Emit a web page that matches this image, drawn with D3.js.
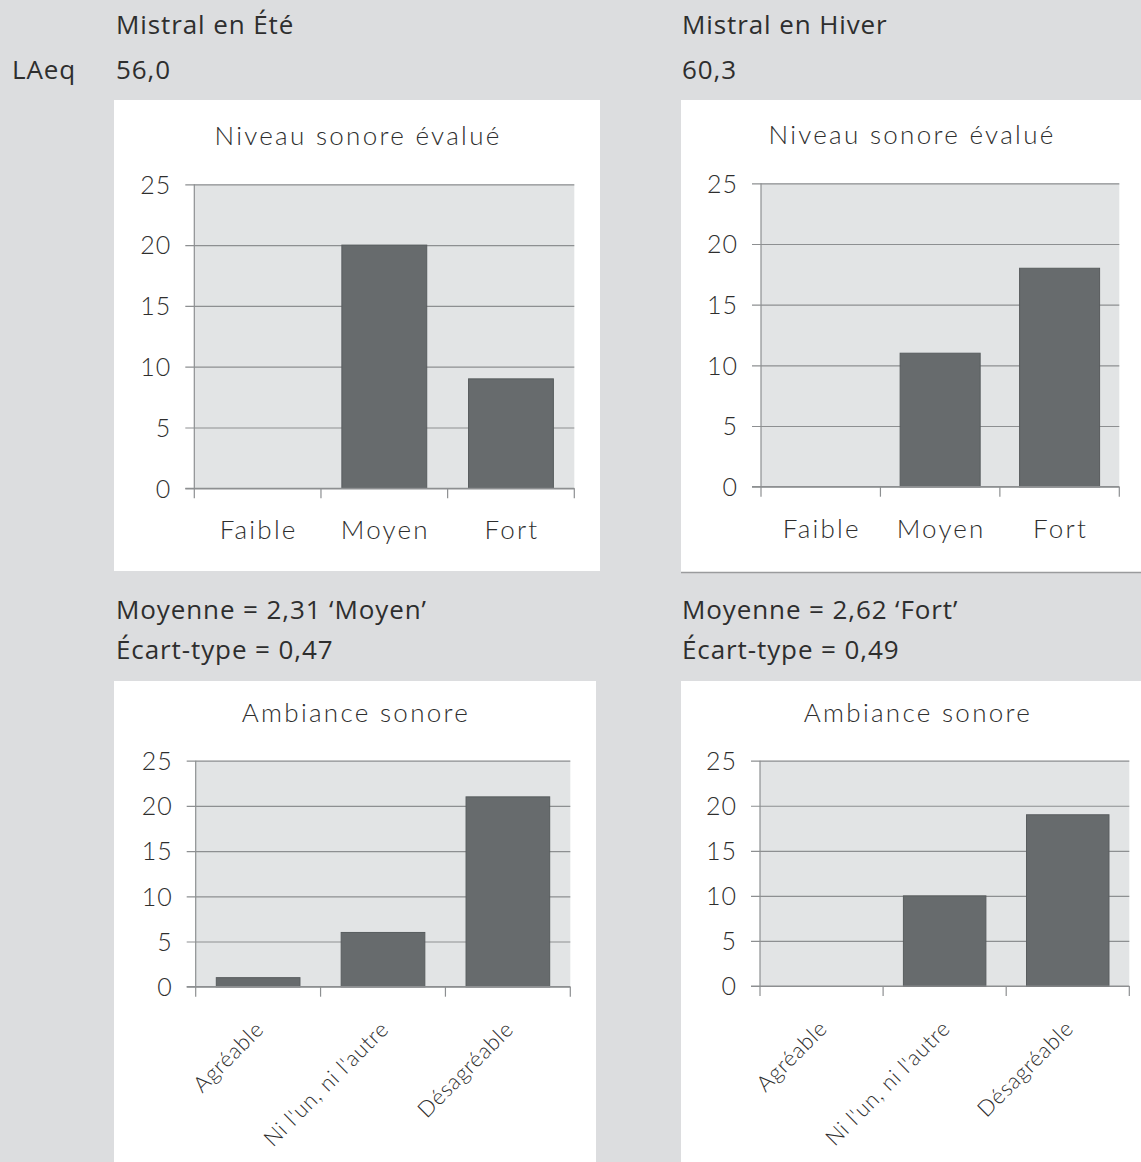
<!DOCTYPE html>
<html><head><meta charset="utf-8">
<script src="https://cdn.jsdelivr.net/npm/d3@7/dist/d3.min.js"></script>
<style>
html,body{margin:0;padding:0;background:#dcdddf;}
svg{display:block;}
</style></head>
<body>
<svg id="c" width="1141" height="1162"></svg>
<script>
// ---- data ----
const seasons = ["Mistral en Été", "Mistral en Hiver"];
const laeqLabel = "LAeq";
const laeqValues = ["56,0", "60,3"];
const moyennes = ["Moyenne = 2,31 \u2018Moyen\u2019", "Moyenne = 2,62 \u2018Fort\u2019"];
const ecarts = ["Écart-type = 0,47", "Écart-type = 0,49"];
const titleNiveau = "Niveau sonore évalué";
const titleAmbiance = "Ambiance sonore";
const categoriesNiveau = ["Faible", "Moyen", "Fort"];
const niveauEte = [0, 20, 9];
const niveauHiver = [0, 11, 18];
const categoriesAmbiance = ["Agréable", "Ni l'un, ni l'autre", "Désagréable"];
const ambianceEte = [1, 6, 21];
const ambianceHiver = [0, 10, 19];
const yTicks = [0, 5, 10, 15, 20, 25];

// ---- layout ----
const svg = d3.select("#c");
const headFont = "'Open Sans', sans-serif";
const chartFont = "Lato, sans-serif";
const txtCol = "#2e2e2e";

svg.append("rect").attr("width",1141).attr("height",1162).attr("fill","#dcdddf");

function head(x, y, t){
  svg.append("text").attr("x",x).attr("y",y).text(t)
    .attr("font-family",headFont).attr("font-size",26).attr("letter-spacing",0.9).attr("fill",txtCol);
}
head(116, 34, seasons[0]);
head(682, 34, seasons[1]);
head(12, 79, laeqLabel);
head(116, 79, laeqValues[0]);
head(682, 79, laeqValues[1]);
head(116, 619, moyennes[0]);
head(682, 619, moyennes[1]);
head(116, 659, ecarts[0]);
head(682, 659, ecarts[1]);

const panels = [
  {px:114, py:100, pw:486, ph:471, x0:194.3, x1:574.3, yT:184.3, yB:488.3, title:titleNiveau, tY:136, tX:357, cats:categoriesNiveau, vals:niveauEte, rot:false, border:false},
  {px:681, py:100, pw:460, ph:472, x0:761, x1:1119.3, yT:183.3, yB:486.7, title:titleNiveau, tY:135, tX:911, cats:categoriesNiveau, vals:niveauHiver, rot:false, border:true},
  {px:114, py:681, pw:482, ph:481, x0:195.7, x1:570.3, yT:760.7, yB:986.7, title:titleAmbiance, tY:713, tX:355, cats:categoriesAmbiance, vals:ambianceEte, rot:true, border:false},
  {px:681, py:681, pw:460, ph:481, x0:760, x1:1129.3, yT:760.7, yB:986, title:titleAmbiance, tY:713, tX:917, cats:categoriesAmbiance, vals:ambianceHiver, rot:true, border:false}
];

panels.forEach(p => {
  const g = svg.append("g");
  g.append("rect").attr("x",p.px).attr("y",p.py).attr("width",p.pw).attr("height",p.ph).attr("fill","#ffffff");
  if (p.border) {
    g.append("line").attr("x1",p.px).attr("x2",p.px+p.pw).attr("y1",p.py+p.ph+0.5).attr("y2",p.py+p.ph+0.5)
      .attr("stroke","#9a9b9d").attr("stroke-width",1.5);
  }
  const x = d3.scaleBand().domain(p.cats).range([p.x0, p.x1]).paddingInner(0).paddingOuter(0);
  const y = d3.scaleLinear().domain([0, 25]).range([p.yB, p.yT]);

  g.append("rect").attr("x",p.x0).attr("y",p.yT).attr("width",p.x1-p.x0).attr("height",p.yB-p.yT).attr("fill","#e2e4e5");

  // gridlines + y axis
  const yAxis = d3.axisLeft(y).tickValues(yTicks).tickSize(-(p.x1-p.x0)).tickPadding(0).tickFormat(d3.format("d"));
  const ya = g.append("g").attr("transform",`translate(${p.x0},0)`).call(yAxis);
  ya.select(".domain").remove();
  ya.selectAll(".tick line").attr("stroke","#8d8f91").attr("stroke-width",1.2).attr("x1",-9);
  ya.selectAll(".tick text").attr("x",-23).attr("dy","0.35em")
    .attr("font-family",chartFont).attr("font-weight",300).attr("font-size",25).attr("letter-spacing",1).attr("fill",txtCol);
  // vertical axis line
  g.append("line").attr("x1",p.x0).attr("x2",p.x0).attr("y1",p.yT).attr("y2",p.yB).attr("stroke","#8d8f91").attr("stroke-width",1.2);

  // bars
  const bw = x.bandwidth()*0.67;
  g.selectAll("rect.bar").data(p.vals.map((v,i)=>({c:p.cats[i], v})).filter(d=>d.v>0)).enter()
    .append("rect").attr("class","bar")
    .attr("x",d=>x(d.c)+(x.bandwidth()-bw)/2).attr("width",bw)
    .attr("y",d=>y(d.v)).attr("height",d=>y(0)-y(d.v))
    .attr("fill","#676b6d").attr("stroke","#585c5e").attr("stroke-width",1);

  // x axis ticks at band boundaries
  const bounds = p.cats.map(c=>x(c)).concat([p.x1]);
  g.selectAll("line.xt").data(bounds).enter().append("line")
    .attr("x1",d=>d).attr("x2",d=>d).attr("y1",p.yB).attr("y2",p.yB+10)
    .attr("stroke","#8d8f91").attr("stroke-width",1.2);
  g.append("line").attr("x1",p.x0-9).attr("x2",p.x1).attr("y1",p.yB).attr("y2",p.yB).attr("stroke","#8d8f91").attr("stroke-width",1.2);

  // category labels
  if (!p.rot) {
    g.selectAll("text.cat").data(p.cats).enter().append("text")
      .attr("x",d=>x(d)+x.bandwidth()/2+1).attr("y",p.yB+51)
      .attr("text-anchor","middle").text(d=>d)
      .attr("font-family",chartFont).attr("font-weight",300).attr("font-size",26).attr("letter-spacing",2.2).attr("fill",txtCol);
  } else {
    g.selectAll("text.cat").data(p.cats).enter().append("text")
      .attr("transform",d=>`translate(${x(d)+x.bandwidth()/2+7},${p.yB+44}) rotate(-45)`)
      .attr("text-anchor","end").text(d=>d)
      .attr("font-family",chartFont).attr("font-weight",300).attr("font-size",22).attr("letter-spacing",0.7).attr("fill",txtCol);
  }

  // title
  g.append("text").attr("x",p.tX+1).attr("y",p.tY).attr("dy","0.35em").attr("text-anchor","middle").text(p.title)
    .attr("font-family",chartFont).attr("font-weight",300).attr("font-size",26).attr("letter-spacing",2.3).attr("fill",txtCol);
});
</script>
</body></html>
